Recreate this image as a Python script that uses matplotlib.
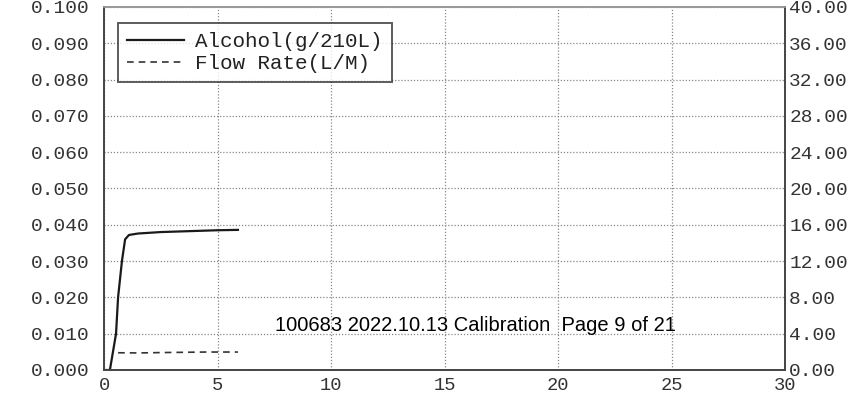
import matplotlib.pyplot as plt
import numpy as np

# Alcohol trace (left axis, g/210L) vs time
alc_t = [0.0, 0.26, 0.53, 0.62, 0.79, 0.93, 1.1, 1.5, 2.5, 4.0, 5.0, 5.9]
alc_v = [0.0, 0.0, 0.010, 0.020, 0.030, 0.0360, 0.0372, 0.0376, 0.0380, 0.0383, 0.0385, 0.0386]

# Flow rate trace (right axis, L/M)
flow_t = [0.62, 1.5, 2.5, 3.5, 4.5, 5.9]
flow_v = [1.90, 1.88, 1.92, 1.95, 1.98, 1.98]

x_ticks = [0, 5, 10, 15, 20, 25, 30]
left_ticks = np.arange(0, 0.1001, 0.01)
right_ticks = np.arange(0, 40.01, 4)
note = "100683 2022.10.13 Calibration  Page 9 of 21"

mono = 'Liberation Mono'

fig = plt.figure(figsize=(8.51, 4.09), dpi=100)
ax = fig.add_axes([104/851, 1 - 370/409, 681/851, 363/409])
ax2 = ax.twinx()

l1, = ax.plot(alc_t, alc_v, color='#1a1a1a', lw=1.6, label='Alcohol(g/210L)')
l2, = ax2.plot(flow_t, flow_v, color='#333333', lw=1.2, ls=(0, (4, 3)), label='Flow Rate(L/M)')

ax.set_xlim(0, 30)
ax.set_ylim(0, 0.1)
ax2.set_ylim(0, 40)
ax.set_xticks(x_ticks)
ax.set_yticks(left_ticks)
ax2.set_yticks(right_ticks)
ax.set_yticklabels(['%.3f' % v for v in left_ticks])
ax2.set_yticklabels(['%.2f' % v for v in right_ticks])
ax.set_xticklabels([str(v) for v in x_ticks])

ax.grid(True, color='#888888', ls=(0, (1, 1.5)), lw=0.9)
ax.tick_params(axis='y', length=0, pad=10, labelsize=14, colors='#333333')
ax.tick_params(axis='x', length=0, pad=5, labelsize=13.5, colors='#333333')
ax2.tick_params(axis='y', length=0, pad=3, labelsize=14, colors='#333333')
for a in (ax, ax2):
    for lab in a.get_xticklabels() + a.get_yticklabels():
        lab.set_family(mono)
    for s in a.spines.values():
        s.set_color('#444444')
        s.set_linewidth(1.2)
ax.spines['top'].set_color('#999999')
ax2.spines['top'].set_color('#999999')

leg = ax.legend(handles=[l1, l2], loc='upper left', bbox_to_anchor=(14/681, 347/363),
                prop={'family': mono, 'size': 15}, frameon=True, fancybox=False,
                handlelength=2.7, handletextpad=0.55, borderpad=0.45, labelspacing=0.12,
                borderaxespad=0)
leg.get_frame().set_edgecolor('#333333')
leg.get_frame().set_linewidth(1.4)
for t in leg.get_texts():
    t.set_color('#222222')

ax.text(0.545, 0.122, note, transform=ax.transAxes, ha='center', va='center',
        fontsize=14.5, family='Liberation Sans', color='black')

fig.savefig('out.png', dpi=100)
